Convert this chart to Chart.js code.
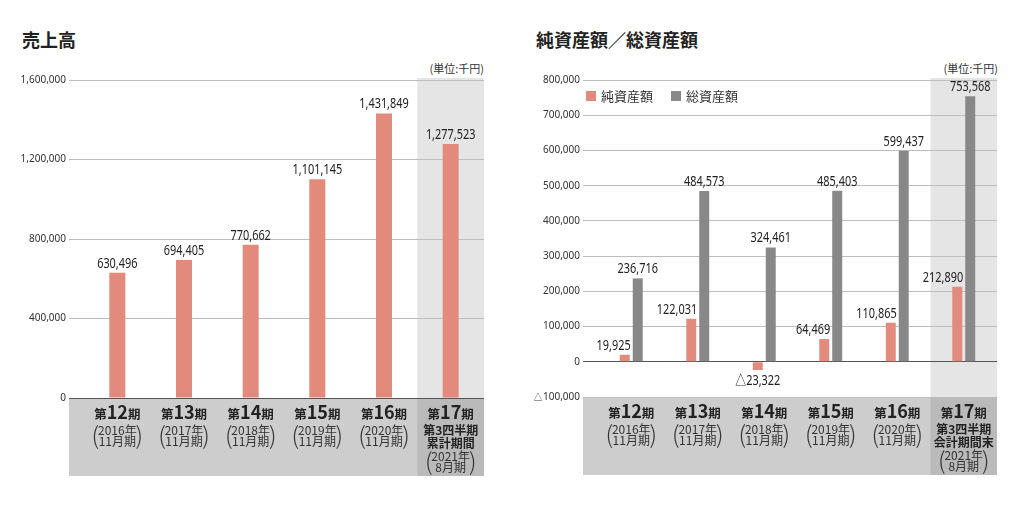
<!DOCTYPE html>
<html lang="ja">
<head>
<meta charset="utf-8">
<script src="https://cdn.jsdelivr.net/npm/chart.js@4.4.1/dist/chart.umd.min.js"></script>
<style>
  body { margin: 0; background: #fff; width: 1024px; height: 510px; overflow: hidden; position: relative; font-family: "Noto Sans CJK JP", "Noto Sans", sans-serif; }
  .title { position: absolute; top: 30px; font-size: 18px; font-weight: bold; color: #222; line-height: 1; }
  .unit { position: absolute; top: 63px; font-size: 11px; color: #333; line-height: 1; text-align: right; }
  canvas { position: absolute; top: 0; }
</style>
</head>
<body>
<div class="title" style="left:22px">売上高</div>
<div class="title" style="left:536px">純資産額／総資産額</div>
<div class="unit" style="left:404px;width:80px">(単位:千円)</div>
<div class="unit" style="left:918px;width:80px">(単位:千円)</div>
<canvas id="salesChart" width="500" height="510" style="left:0"></canvas>
<canvas id="assetChart" width="512" height="510" style="left:512px"></canvas>
<script>
// data
const terms = ['第12期', '第13期', '第14期', '第15期', '第16期', '第17期'];
const termNumbers = ['12', '13', '14', '15', '16', '17'];
const termYears = ['2016年', '2017年', '2018年', '2019年', '2020年', '2021年'];
const termMonths = ['11月期', '11月期', '11月期', '11月期', '11月期', '8月期'];
const salesExtraLines = ['第3四半期', '累計期間'];
const assetExtraLines = ['第3四半期', '会計期間末'];

const sales = [630496, 694405, 770662, 1101145, 1431849, 1277523];
const netAssets = [19925, 122031, -23322, 64469, 110865, 212890];
const totalAssets = [236716, 484573, 324461, 485403, 599437, 753568];

const salesTicks = { min: 0, max: 1600000, step: 400000 };
const assetTicks = { min: -100000, max: 800000, step: 100000 };

const SALMON = '#e28b7d';
const GRAY = '#888888';
const FONT = '"Noto Sans CJK JP", "Noto Sans", sans-serif';

function fmt(v) {
    const s = Math.abs(v).toLocaleString('en-US');
    return v < 0 ? '△' + s : s;
}

// narrow-looking text: draw normal font squeezed horizontally
function drawNarrow(ctx, text, x, y, align) {
    const k = 0.78;
    ctx.save();
    ctx.translate(x, y);
    ctx.scale(k, 1);
    ctx.textAlign = align;
    ctx.fillText(text, 0, 0);
    ctx.restore();
}

// highlight column + bottom label band
function bandPlugin(extraLines) {
    return {
        id: 'band',
        beforeDraw(chart) {
            const { ctx, chartArea: a, scales: { x } } = chart;
            const n = chart.data.labels.length;
            const half = (x.getPixelForValue(1) - x.getPixelForValue(0)) / 2;
            const lastLeft = x.getPixelForValue(n - 1) - half;
            ctx.save();
            ctx.fillStyle = '#e5e5e5';
            ctx.fillRect(lastLeft, a.top - 2, a.right - lastLeft, a.bottom - a.top + 2);
            ctx.fillStyle = '#cdcdcd';
            ctx.fillRect(a.left - 15, a.bottom, a.right - a.left + 15, 78);
            ctx.fillStyle = '#bababa';
            ctx.fillRect(lastLeft, a.bottom, a.right - lastLeft, 78);
            ctx.restore();
        },
        afterDraw(chart) {
            const { ctx, chartArea: a, scales: { x } } = chart;
            const b = a.bottom;
            ctx.save();
            ctx.fillStyle = '#222';
            ctx.textBaseline = 'alphabetic';
            termNumbers.forEach((num, i) => {
                const cx = x.getPixelForValue(i);
                // 第NN期 with big digits
                const small = 'bold 12.5px ' + FONT;
                const big = 'bold 18px ' + FONT;
                ctx.font = small;
                const w1 = ctx.measureText('第').width;
                ctx.font = big;
                const w2 = ctx.measureText(num).width;
                let left = cx - (w1 * 2 + w2) / 2;
                ctx.textAlign = 'left';
                ctx.font = small; ctx.fillText('第', left, b + 21);
                ctx.font = big; ctx.fillText(num, left + w1, b + 21);
                ctx.font = small; ctx.fillText('期', left + w1 + w2, b + 21);

                ctx.textAlign = 'center';
                ctx.textBaseline = 'middle';
                let yy = b + 32;
                const last = i === termNumbers.length - 1;
                if (last) {
                    ctx.font = 'bold 12px ' + FONT;
                    ctx.fillStyle = '#222';
                    ctx.fillText(extraLines[0], cx, b + 32);
                    ctx.fillText(extraLines[1], cx, b + 45);
                    yy = b + 58;
                }
                ctx.fillStyle = '#333';
                ctx.font = '12px ' + FONT;
                ctx.fillText(termYears[i], cx, yy);
                ctx.fillText(termMonths[i], cx, yy + 11.5);
                ctx.font = '200 24px ' + FONT;
                ctx.fillText('(', cx - 22, yy + 5);
                ctx.fillText(')', cx + 22, yy + 5);
                ctx.textBaseline = 'alphabetic';
                ctx.fillStyle = '#222';
            });
            ctx.restore();
        }
    };
}

// value labels on bars
const valueLabels = {
    id: 'valueLabels',
    afterDatasetsDraw(chart) {
        const { ctx } = chart;
        const grouped = chart.data.datasets.length > 1;
        ctx.save();
        ctx.fillStyle = '#222';
        ctx.font = '14px "Noto Sans", ' + FONT;
        chart.data.datasets.forEach((ds, di) => {
            chart.getDatasetMeta(di).data.forEach((bar, i) => {
                const v = ds.data[i];
                if (v < 0) {
                    ctx.textBaseline = 'top';
                    drawNarrow(ctx, fmt(v), bar.x, bar.y + 4, 'center');
                } else if (grouped && di === 0) {
                    ctx.textBaseline = 'alphabetic';
                    drawNarrow(ctx, fmt(v), bar.x + bar.width / 2 + 1, bar.y - 5, 'right');
                } else {
                    ctx.textBaseline = 'alphabetic';
                    drawNarrow(ctx, fmt(v), bar.x, bar.y - 5, 'center');
                }
            });
        });
        ctx.restore();
    }
};

// legend inside the plot
const innerLegend = {
    id: 'innerLegend',
    afterDraw(chart) {
        const { ctx, chartArea: a } = chart;
        const xs = [a.left - 12, a.left + 73];
        ctx.save();
        ctx.font = '13px ' + FONT;
        ctx.textBaseline = 'middle';
        ctx.textAlign = 'left';
        chart.data.datasets.forEach((ds, i) => {
            ctx.fillStyle = ds.backgroundColor;
            ctx.fillRect(xs[i], a.top + 11, 10, 10);
            ctx.fillStyle = '#333';
            ctx.fillText(ds.label, xs[i] + 15, a.top + 16);
        });
        ctx.restore();
    }
};

function yScale(t, axisWidth) {
    return {
        min: t.min, max: t.max,
        afterFit: s => { s.width = axisWidth; },
        border: { display: false },
        grid: {
            color: c => c.tick && c.tick.value === 0 ? '#555' : '#bdbdbd',
            lineWidth: 1,
            drawTicks: true,
            tickLength: 15
        },
        ticks: {
            stepSize: t.step,
            padding: 3,
            color: '#333',
            font: { family: '"Noto Sans"', size: 10 },
            callback: v => fmt(v)
        }
    };
}

new Chart(document.getElementById('salesChart'), {
    type: 'bar',
    data: {
        labels: terms,
        datasets: [{ label: '売上高', data: sales, backgroundColor: SALMON,
            categoryPercentage: 0.24, barPercentage: 1 }]
    },
    options: {
        responsive: false, animation: false, devicePixelRatio: 1,
        layout: { padding: { top: 80, bottom: 112, right: 16, left: 0 } },
        plugins: { legend: { display: false }, tooltip: { enabled: false } },
        scales: {
            x: { display: false },
            y: yScale(salesTicks, 84)
        }
    },
    plugins: [bandPlugin(salesExtraLines), valueLabels]
});

new Chart(document.getElementById('assetChart'), {
    type: 'bar',
    data: {
        labels: terms,
        datasets: [
            { label: '純資産額', data: netAssets, backgroundColor: SALMON,
              categoryPercentage: 0.39, barPercentage: 0.77 },
            { label: '総資産額', data: totalAssets, backgroundColor: GRAY,
              categoryPercentage: 0.39, barPercentage: 0.77 }
        ]
    },
    options: {
        responsive: false, animation: false, devicePixelRatio: 1,
        layout: { padding: { top: 80, bottom: 113, right: 27, left: 0 } },
        plugins: { legend: { display: false }, tooltip: { enabled: false } },
        scales: {
            x: { display: false },
            y: yScale(assetTicks, 86)
        }
    },
    plugins: [bandPlugin(assetExtraLines), valueLabels, innerLegend]
});
</script>
</body>
</html>
